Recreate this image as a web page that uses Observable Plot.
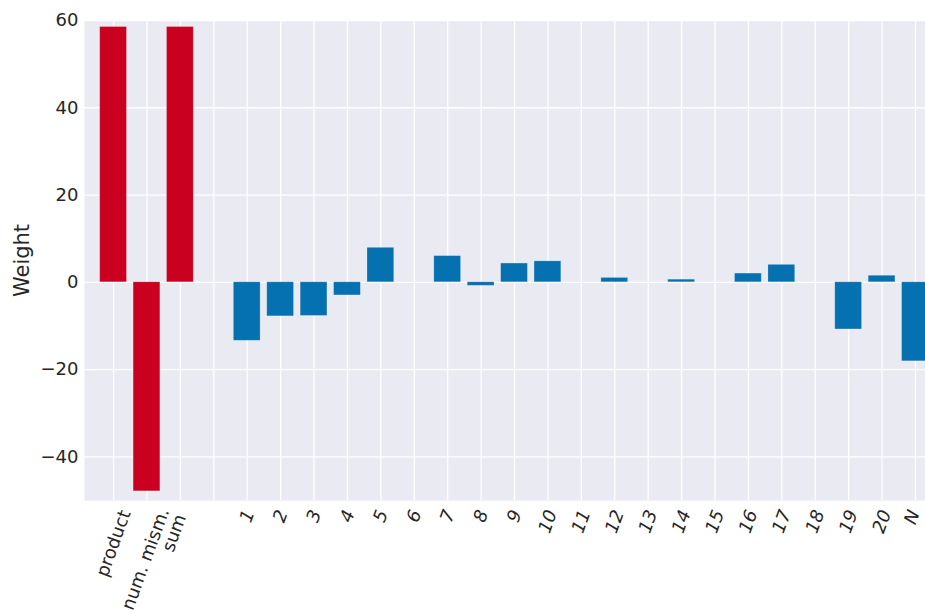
<!DOCTYPE html>
<html>
<head>
<meta charset="utf-8">
<script src="https://cdn.jsdelivr.net/npm/d3@7"></script>
<script src="https://cdn.jsdelivr.net/npm/@observablehq/plot@0.6"></script>
<style>
  html, body { margin: 0; padding: 0; background: #ffffff; }
  #chart svg { display: block; }
</style>
</head>
<body>
<div id="chart"></div>
<script>
// ---- data ----
const categories = ["product", "num. mism.", "sum", "",
  "1", "2", "3", "4", "5", "6", "7", "8", "9", "10",
  "11", "12", "13", "14", "15", "16", "17", "18", "19", "20", "N"];
// text printed under each tick (the reference prints "num. mism." and "sum" as one two-line label)
const tickLabels = ["product", "", "num. mism.\nsum", "",
  "1", "2", "3", "4", "5", "6", "7", "8", "9", "10",
  "11", "12", "13", "14", "15", "16", "17", "18", "19", "20", "N"];
const weights = [58.5, -47.9, 58.5, null,
  -13.4, -7.8, -7.7, -3.0, 7.9, 0, 6.0, -0.8, 4.3, 4.8,
  0, 1.0, 0, 0.6, 0, 2.0, 4.0, 0, -10.8, 1.5, -18.1];
const groups = ["aggregate", "aggregate", "aggregate", null,
  "position", "position", "position", "position", "position", "position", "position", "position", "position", "position",
  "position", "position", "position", "position", "position", "position", "position", "position", "position", "position", "position"];
const groupNames = ["aggregate", "position"];
const groupColors = ["#ca0020", "#0571b0"];
const yTicks = [-40, -20, 0, 20, 40, 60];
const yLabel = "Weight";

// ---- build ----
const rows = categories.map((label, i) => ({i, label, weight: weights[i], group: groups[i]}))
  .filter(d => d.weight != null);
const positions = categories.map((_, i) => i);

const textColor = "#262626";
const fontFamily = "DejaVu Sans, sans-serif";
const tickFont = 18;

// measure label lengths so rotated labels are centred under their tick (like matplotlib ha="center")
const ctx = document.createElement("canvas").getContext("2d");
function labelLength(label, italic) {
  ctx.font = `${italic ? "italic " : ""}${tickFont}px DejaVu Sans`;
  return ctx.measureText(label).width;
}
const isNumberLike = label => label === "N" || !isNaN(+label);
const tickAxes = positions.filter(i => tickLabels[i] !== "").map(i => {
  const label = tickLabels[i];
  const italic = isNumberLike(label);
  const multiLine = label.includes("\n");
  const L = multiLine ? 0 : labelLength(label, italic);
  return Plot.axisX([i], {
    tickRotate: -70,
    tickSize: 0,
    tickFormat: v => tickLabels[v],
    fontSize: tickFont,
    fontStyle: italic ? "italic" : "normal",
    dx: multiLine ? -8 : label === "N" ? -1 : 0.171 * L,
    dy: multiLine ? 1 : 0,
    fill: textColor,
    label: null
  });
});

const chart = Plot.plot({
  width: 925,
  height: 614,
  marginLeft: 84,
  marginRight: 0,
  marginTop: 20,
  marginBottom: 114,
  style: {fontFamily, color: textColor, background: "#ffffff"},
  x: {type: "linear", domain: [-0.87, 24.3], axis: null},
  y: {domain: [-50, 60], label: null, axis: null},
  color: {domain: groupNames, range: groupColors},
  marks: [
    Plot.frame({fill: "#eaeaf2", stroke: null}),
    Plot.gridX(positions, {stroke: "#ffffff", strokeOpacity: 1, strokeWidth: 1.3}),
    Plot.gridY(yTicks, {stroke: "#ffffff", strokeOpacity: 1, strokeWidth: 1.3}),
    Plot.rectY(rows, {
      x1: d => d.i - 0.4,
      x2: d => d.i + 0.4,
      y1: 0,
      y2: "weight",
      fill: "group",
      stroke: "#ffffff",
      strokeOpacity: 0.25,
      strokeWidth: 0.8
    }),
    Plot.axisY(yTicks, {
      tickSize: 0,
      tickPadding: 6,
      fontSize: tickFont,
      fill: textColor,
      tickFormat: d => d < 0 ? "\u2212" + Math.abs(d) : String(d),
      label: yLabel,
      labelAnchor: "center",
      labelOffset: 70,
      labelArrow: "none"
    }),
    ...tickAxes
  ]
});
document.getElementById("chart").appendChild(chart);
// enlarge the y-axis title
chart.querySelectorAll('[aria-label="y-axis label"] text').forEach(t => t.setAttribute("font-size", 21));
</script>
</body>
</html>
